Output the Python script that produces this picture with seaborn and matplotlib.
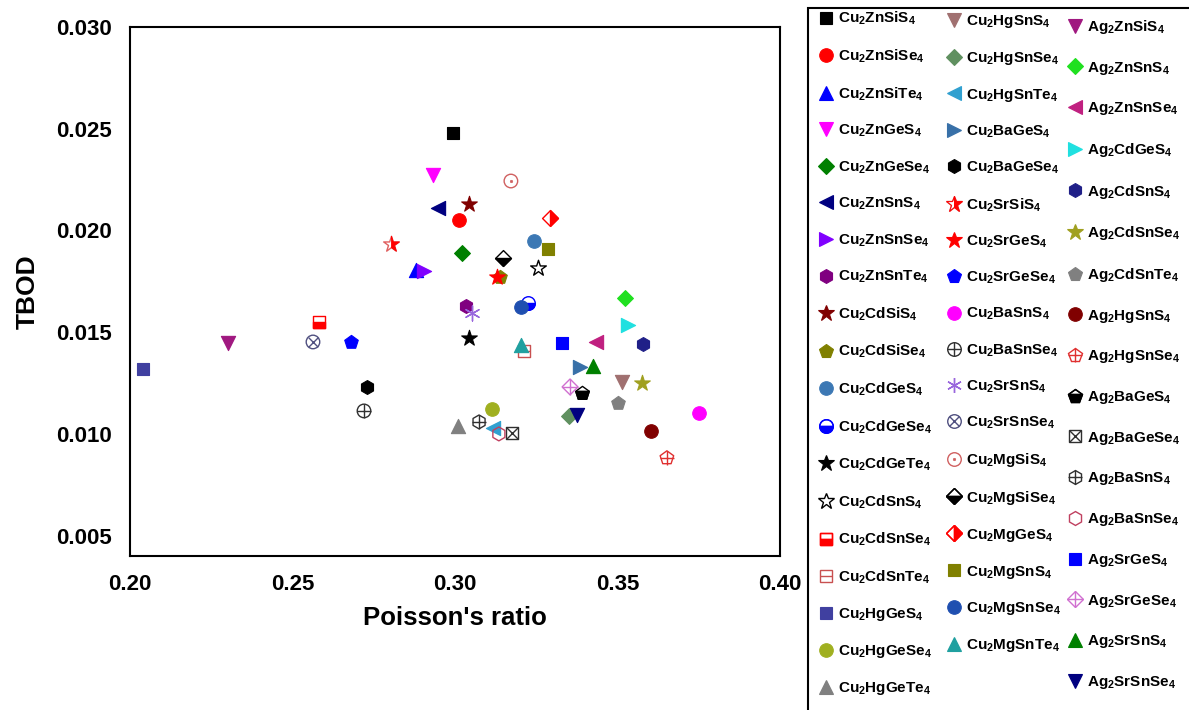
import re
import numpy as np
import seaborn as sns
import matplotlib
matplotlib.use("Agg")
import matplotlib.pyplot as plt
from matplotlib.markers import MarkerStyle
from matplotlib.lines import Line2D
from matplotlib.patches import Rectangle
from matplotlib.ticker import MultipleLocator, FormatStrFormatter

# ---------------- data ----------------
compounds_col1 = ["Cu2ZnSiS4", "Cu2ZnSiSe4", "Cu2ZnSiTe4", "Cu2ZnGeS4", "Cu2ZnGeSe4",
                  "Cu2ZnSnS4", "Cu2ZnSnSe4", "Cu2ZnSnTe4", "Cu2CdSiS4", "Cu2CdSiSe4",
                  "Cu2CdGeS4", "Cu2CdGeSe4", "Cu2CdGeTe4", "Cu2CdSnS4", "Cu2CdSnSe4",
                  "Cu2CdSnTe4", "Cu2HgGeS4", "Cu2HgGeSe4", "Cu2HgGeTe4"]
poisson_col1 = [0.2994, 0.3012, 0.2880, 0.2932, 0.3022, 0.2948, 0.2905, 0.3034, 0.3043, 0.3138,
                0.3243, 0.3225, 0.3043, 0.3255, 0.2582, 0.3212, 0.2040, 0.3114, 0.3009]
tbod_col1 = [0.02479, 0.02051, 0.01806, 0.02273, 0.01889, 0.02110, 0.01801, 0.01629, 0.02130, 0.01771,
             0.01948, 0.01643, 0.01471, 0.01815, 0.01550, 0.01408, 0.01319, 0.01123, 0.01039]

compounds_col2 = ["Cu2HgSnS4", "Cu2HgSnSe4", "Cu2HgSnTe4", "Cu2BaGeS4", "Cu2BaGeSe4",
                  "Cu2SrSiS4", "Cu2SrGeS4", "Cu2SrGeSe4", "Cu2BaSnS4", "Cu2BaSnSe4",
                  "Cu2SrSnS4", "Cu2SrSnSe4", "Cu2MgSiS4", "Cu2MgSiSe4", "Cu2MgGeS4",
                  "Cu2MgSnS4", "Cu2MgSnSe4", "Cu2MgSnTe4"]
poisson_col2 = [0.3514, 0.3351, 0.3117, 0.3385, 0.2729, 0.2803, 0.3129, 0.2680, 0.3751, 0.2720,
                0.3052, 0.2563, 0.3172, 0.3148, 0.3292, 0.3286, 0.3203, 0.3203]
tbod_col2 = [0.01255, 0.01088, 0.01029, 0.01329, 0.01231, 0.01933, 0.01771, 0.01452, 0.01103, 0.01113,
             0.01594, 0.01452, 0.02243, 0.01865, 0.02061, 0.01909, 0.01624, 0.01437]

compounds_col3 = ["Ag2ZnSiS4", "Ag2ZnSnS4", "Ag2ZnSnSe4", "Ag2CdGeS4", "Ag2CdSnS4",
                  "Ag2CdSnSe4", "Ag2CdSnTe4", "Ag2HgSnS4", "Ag2HgSnSe4", "Ag2BaGeS4",
                  "Ag2BaGeSe4", "Ag2BaSnS4", "Ag2BaSnSe4", "Ag2SrGeS4", "Ag2SrGeSe4",
                  "Ag2SrSnS4", "Ag2SrSnSe4"]
poisson_col3 = [0.2302, 0.3523, 0.3434, 0.3532, 0.3578, 0.3575, 0.3502, 0.3603, 0.3652, 0.3391,
                0.3175, 0.3074, 0.3135, 0.3329, 0.3354, 0.3425, 0.3375]
tbod_col3 = [0.01447, 0.01668, 0.01452, 0.01535, 0.01442, 0.01250, 0.01152, 0.01014, 0.00882, 0.01201,
             0.01004, 0.01059, 0.01000, 0.01447, 0.01231, 0.01334, 0.01093]

# ---------------- marker styles ----------------
styles = {
    "Cu2ZnSiS4": ("s", "#000000"), "Cu2ZnSiSe4": ("o", "#ff0000"), "Cu2ZnSiTe4": ("^", "#0000ff"),
    "Cu2ZnGeS4": ("v", "#ff00ff"), "Cu2ZnGeSe4": ("D", "#008000"), "Cu2ZnSnS4": ("<", "#000080"),
    "Cu2ZnSnSe4": (">", "#8000ff"), "Cu2ZnSnTe4": ("h", "#800080"), "Cu2CdSiS4": ("*", "#800000"),
    "Cu2CdSiSe4": ("p", "#808000"), "Cu2CdGeS4": ("o", "#3c78b4"), "Cu2CdGeSe4": ("o_b", "#0000ff"),
    "Cu2CdGeTe4": ("*", "#000000"), "Cu2CdSnS4": ("*_open", "#000000"), "Cu2CdSnSe4": ("s_b", "#ff0000"),
    "Cu2CdSnTe4": ("s_line", "#c85050"), "Cu2HgGeS4": ("s", "#4040a0"), "Cu2HgGeSe4": ("o", "#a0b020"),
    "Cu2HgGeTe4": ("^", "#808080"),
    "Cu2HgSnS4": ("v", "#a07070"), "Cu2HgSnSe4": ("D", "#609060"), "Cu2HgSnTe4": ("<", "#30a0d0"),
    "Cu2BaGeS4": (">", "#3870a8"), "Cu2BaGeSe4": ("h", "#000000"), "Cu2SrSiS4": ("*_half", "#ff0000"),
    "Cu2SrGeS4": ("*", "#ff0000"), "Cu2SrGeSe4": ("p", "#0000ff"), "Cu2BaSnS4": ("o", "#ff00ff"),
    "Cu2BaSnSe4": ("oplus", "#303030"), "Cu2SrSnS4": ("ast", "#9966dd"), "Cu2SrSnSe4": ("otimes", "#505080"),
    "Cu2MgSiS4": ("o_dot", "#d06060"), "Cu2MgSiSe4": ("D_b", "#000000"), "Cu2MgGeS4": ("D_r", "#ff0000"),
    "Cu2MgSnS4": ("s", "#808000"), "Cu2MgSnSe4": ("o", "#1f4fb0"), "Cu2MgSnTe4": ("^", "#20a0a0"),
    "Ag2ZnSiS4": ("v", "#a01880"), "Ag2ZnSnS4": ("D", "#20e020"), "Ag2ZnSnSe4": ("<", "#c02080"),
    "Ag2CdGeS4": (">", "#20e0e0"), "Ag2CdSnS4": ("h", "#202088"), "Ag2CdSnSe4": ("*", "#a0a020"),
    "Ag2CdSnTe4": ("p", "#808080"), "Ag2HgSnS4": ("o", "#800000"), "Ag2HgSnSe4": ("pplus", "#e03030"),
    "Ag2BaGeS4": ("p_b", "#000000"), "Ag2BaGeSe4": ("sx", "#303030"), "Ag2BaSnS4": ("hplus", "#303030"),
    "Ag2BaSnSe4": ("h_open", "#c04060"), "Ag2SrGeS4": ("s", "#0000ff"), "Ag2SrGeSe4": ("Dplus", "#d070d0"),
    "Ag2SrSnS4": ("^", "#008000"), "Ag2SrSnSe4": ("v", "#000080"),
}

SZ = {"o": 95, "s": 75, "^": 105, "v": 105, "<": 105, ">": 105, "D": 65, "h": 100, "p": 105, "*": 140}


def layers(kind, c):
    if kind in SZ:
        return [(kind, SZ[kind], c, c, 0.8, "full")]
    if kind in ("o_b", "s_b", "p_b", "D_b", "D_r"):
        m, f = kind.split("_")
        fill = {"b": "bottom", "r": "right"}[f]
        return [(m, SZ[m], "white", c, 1.0, "full"), (m, SZ[m], c, c, 1.0, fill)]
    if kind == "*_open":
        return [("*", 140, "white", c, 1.0, "full")]
    if kind == "*_half":
        return [("*", 140, "white", "#e06060", 1.0, "full"), ("*", 140, c, c, 0.6, "right")]
    if kind == "oplus":
        return [("o", 95, "none", c, 1.0, "full"), ("+", 95, None, c, 1.0, "full")]
    if kind == "otimes":
        return [("o", 95, "none", c, 1.0, "full"), ("x", 48, None, c, 1.0, "full")]
    if kind == "sx":
        return [("s", 75, "none", c, 1.0, "full"), ("x", 75, None, c, 1.0, "full")]
    if kind == "hplus":
        return [("h", 100, "none", c, 1.0, "full"), ("+", 100, None, c, 1.0, "full")]
    if kind == "pplus":
        return [("p", 105, "none", c, 1.0, "full"), ("+", 105, None, c, 1.0, "full")]
    if kind == "Dplus":
        return [("D", 65, "none", c, 1.0, "full"), ("+", 130, None, c, 1.0, "full")]
    if kind == "o_dot":
        return [("o", 95, "none", c, 1.0, "full"), ("o", 3, c, c, 0.5, "full")]
    if kind == "h_open":
        return [("h", 100, "none", c, 1.0, "full")]
    if kind == "s_line":
        return [("s", 75, "none", c, 1.0, "full"), ("_", 75, None, c, 1.0, "full")]
    if kind == "ast":
        return [((6, 2, 0), 115, None, c, 1.0, "full")]
    raise ValueError(kind)


def fmt_label(name):
    return re.sub(r"(\d)", r"$_{\1}$", name)


# ---------------- style ----------------
sns.set_style("white")
plt.rcParams["font.family"] = ["Liberation Sans", "DejaVu Sans"]
plt.rcParams["font.weight"] = "bold"
plt.rcParams["text.color"] = "black"
plt.rcParams["axes.labelcolor"] = "black"
plt.rcParams["mathtext.fontset"] = "custom"
plt.rcParams["mathtext.rm"] = "Liberation Sans:bold"
plt.rcParams["mathtext.bf"] = "Liberation Sans:bold"
plt.rcParams["mathtext.default"] = "bf"

fig = plt.figure(figsize=(11.89, 7.10), dpi=100)
ax = fig.add_axes([130 / 1189, 1 - 556 / 710, 650 / 1189, 529 / 710])

handles_cols = []
for names, xs, ys in [(compounds_col1, poisson_col1, tbod_col1),
                      (compounds_col2, poisson_col2, tbod_col2),
                      (compounds_col3, poisson_col3, tbod_col3)]:
    hs = []
    for name, xv, yv in zip(names, xs, ys):
        kind, c = styles[name]
        lh = []
        for (m, s, face, edge, lw, fill) in layers(kind, c):
            ms = MarkerStyle(m, fillstyle=fill)
            if ms.is_filled():
                sns.scatterplot(x=[xv], y=[yv], marker=ms, s=s, facecolor=face,
                                edgecolor=edge, linewidth=lw, ax=ax, legend=False, zorder=3)
                lh.append(Line2D([], [], linestyle="none", marker=m, fillstyle=fill,
                                 markersize=np.sqrt(s), markerfacecolor=face,
                                 markerfacecoloralt="none", markeredgecolor=edge,
                                 markeredgewidth=lw))
            else:
                sns.scatterplot(x=[xv], y=[yv], marker=ms, s=s, color=edge,
                                linewidth=lw, ax=ax, legend=False, zorder=3)
                lh.append(Line2D([], [], linestyle="none", marker=m, markersize=np.sqrt(s),
                                 color=edge, markeredgewidth=lw))
        hs.append(tuple(lh) if len(lh) > 1 else lh[0])
    handles_cols.append((hs, [fmt_label(n) for n in names]))

ax.set_xlim(0.20, 0.40)
ax.set_ylim(0.004, 0.030)
ax.xaxis.set_major_locator(MultipleLocator(0.05))
ax.xaxis.set_minor_locator(MultipleLocator(0.01))
ax.yaxis.set_major_locator(MultipleLocator(0.005))
ax.yaxis.set_minor_locator(MultipleLocator(0.001))
ax.xaxis.set_major_formatter(FormatStrFormatter("%.2f"))
ax.yaxis.set_major_formatter(FormatStrFormatter("%.3f"))
ax.tick_params(axis="both", which="major", direction="out", length=6, width=1.5,
               labelsize=16, pad=7, colors="black")
ax.tick_params(axis="both", which="minor", direction="out", length=4, width=1.2, colors="black")
ax.tick_params(top=False, right=False, which="both")
for lab in ax.get_xticklabels() + ax.get_yticklabels():
    lab.set_fontweight("bold")
for sp in ax.spines.values():
    sp.set_visible(True)
    sp.set_color("black")
    sp.set_linewidth(1.5)
ax.set_xlabel("Poisson's ratio", fontsize=18.5, fontweight="bold", labelpad=8, color="black")
ax.set_ylabel("TBOD", fontsize=19, fontweight="bold", labelpad=12, color="black")

# ---------------- legend ----------------
fig.add_artist(Rectangle((808 / 1189, -0.05), 0.5, 1.05 - 8 / 710, transform=fig.transFigure,
                         fill=False, edgecolor="black", linewidth=1.5))
leg_prop = {"family": "Liberation Sans", "weight": "bold", "size": 11}
col_x = [820, 948, 1069]
col_top = [10, 13, 18]
col_spacing = [1.32, 1.30, 1.55]
for (hs, labs), x0, t0, sp in zip(handles_cols, col_x, col_top, col_spacing):
    leg = fig.legend(hs, labs, loc="upper left", bbox_to_anchor=(x0 / 1189, 1 - t0 / 710),
                     frameon=False, prop=leg_prop, borderpad=0, borderaxespad=0,
                     handlelength=0.8, handletextpad=0.4, labelspacing=sp)
    for t in leg.get_texts():
        t.set_color("black")

fig.savefig("out.png", dpi=100)
